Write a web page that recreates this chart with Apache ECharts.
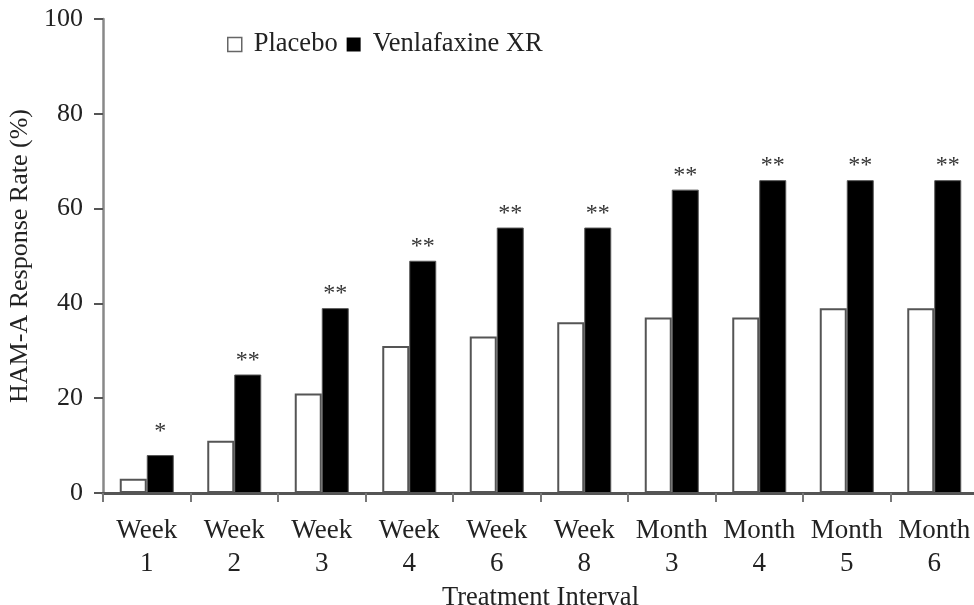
<!DOCTYPE html>
<html>
<head>
<meta charset="utf-8">
<script src="https://cdn.jsdelivr.net/npm/echarts@6/dist/echarts.min.js"></script>
<style>html,body{margin:0;padding:0;background:#fff;}#c{width:974px;height:605px;}</style>
</head>
<body>
<div id="c"></div>
<script>
const categories = ['Week\n1','Week\n2','Week\n3','Week\n4','Week\n6','Week\n8','Month\n3','Month\n4','Month\n5','Month\n6'];
const placebo = [3, 11, 21, 31, 33, 36, 37, 37, 39, 39];
const venlafaxine = [8, 25, 39, 49, 56, 56, 64, 66, 66, 66];
const significance = ['*','**','**','**','**','**','**','**','**','**'];
const yTicks = [0, 20, 40, 60, 80, 100];

const FONT = '"Liberation Serif", "Times New Roman", serif';
const chart = echarts.init(document.getElementById('c'), null, {renderer: 'canvas'});

const venlaData = venlafaxine.map((v, i) => ({
  value: v,
  label: {distance: significance[i].length === 1 ? 11 : 2}
}));

chart.setOption({
  animation: false,
  backgroundColor: '#fff',
  textStyle: {fontFamily: FONT, color: '#222'},
  legend: {
    left: 222, top: 26,
    itemWidth: 14, itemHeight: 14, itemGap: 9,
    icon: 'rect',
    textStyle: {fontFamily: FONT, fontSize: 26.5, color: '#222', padding: [0,0,0,7]},
    data: [
      {name: 'Placebo', itemStyle: {color: '#fff', borderColor: '#666', borderWidth: 1.5}},
      {name: 'Venlafaxine XR', itemStyle: {color: '#000', borderColor: '#000', borderWidth: 0}}
    ]
  },
  grid: {left: 103, top: 19, width: 875, height: 474, containLabel: false, outerBoundsMode: 'none'},
  xAxis: {
    type: 'category',
    data: categories,
    name: 'Treatment Interval',
    nameLocation: 'middle',
    nameGap: 86,
    nameTextStyle: {fontFamily: FONT, fontSize: 26.5, color: '#222'},
    axisLine: {show: true, lineStyle: {color: '#555', width: 3}},
    axisTick: {show: true, length: 9, interval: 0, lineStyle: {color: '#777', width: 2}},
    axisLabel: {interval: 0, fontFamily: FONT, fontSize: 27, lineHeight: 33, color: '#222', margin: 21}
  },
  yAxis: {
    type: 'value',
    min: yTicks[0], max: yTicks[yTicks.length-1], interval: 20,
    name: 'HAM-A Response Rate (%)',
    nameLocation: 'middle',
    nameGap: 65,
    nameTextStyle: {fontFamily: FONT, fontSize: 26, color: '#222'},
    splitLine: {show: false},
    axisLine: {show: true, lineStyle: {color: '#888', width: 2.5}},
    axisTick: {show: true, length: 9, lineStyle: {color: '#555', width: 2}},
    axisLabel: {fontFamily: FONT, fontSize: 26, color: '#222', margin: 20}
  },
  series: [
    {
      name: 'Placebo', type: 'bar', data: placebo,
      barWidth: 27, barGap: '0%',
      itemStyle: {color: '#fff', borderColor: '#555', borderWidth: 2}
    },
    {
      name: 'Venlafaxine XR', type: 'bar', data: venlaData,
      barWidth: 27, barGap: '0%',
      itemStyle: {color: '#000', borderColor: '#555', borderWidth: 1},
      label: {
        show: true, position: 'top', distance: 2,
        fontFamily: FONT, fontSize: 24, color: '#333',
        formatter: p => significance[p.dataIndex]
      }
    }
  ]
});
</script>
</body>
</html>
